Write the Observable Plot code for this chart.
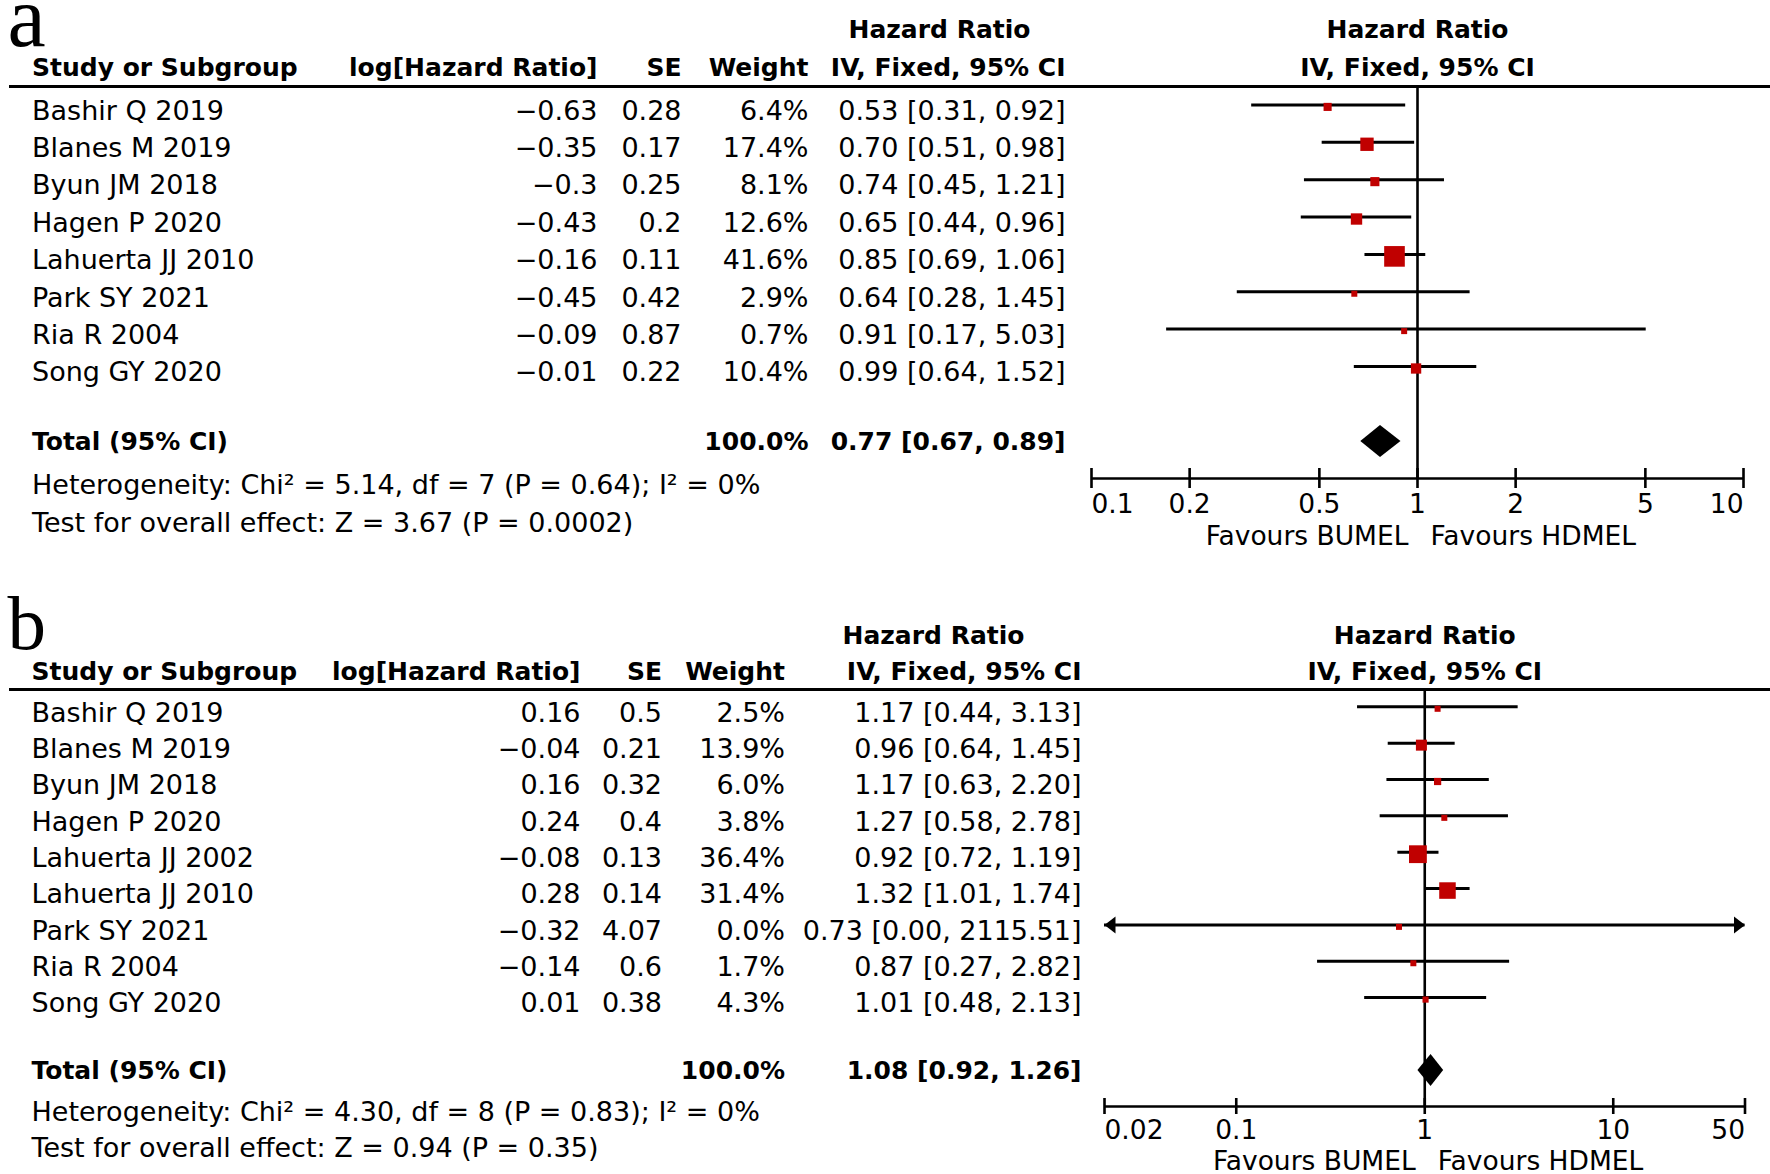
<!DOCTYPE html>
<html>
<head>
<meta charset="utf-8">
<script src="https://cdn.jsdelivr.net/npm/d3@7"></script>
<script src="https://cdn.jsdelivr.net/npm/@observablehq/plot@0.6"></script>
<style>
  html, body { margin: 0; padding: 0; background: #fff; }
  #chart { position: relative; width: 1770px; height: 1174px; background: #fff; }
  #chart svg { position: absolute; left: 0; top: 0; }
</style>
</head>
<body>
<div id="chart"></div>
<script>
// ---------------- DATA ----------------
const headers = ["Study or Subgroup", "log[Hazard Ratio]", "SE", "Weight", "Hazard Ratio", "IV, Fixed, 95% CI"];
const favours = ["Favours BUMEL", "Favours HDMEL"];

// Panel a
const studiesA = ["Bashir Q 2019", "Blanes M 2019", "Byun JM 2018", "Hagen P 2020", "Lahuerta JJ 2010", "Park SY 2021", "Ria R 2004", "Song GY 2020"];
const logHRA = [-0.63, -0.35, -0.3, -0.43, -0.16, -0.45, -0.09, -0.01];
const seA = [0.28, 0.17, 0.25, 0.2, 0.11, 0.42, 0.87, 0.22];
const weightA = [6.4, 17.4, 8.1, 12.6, 41.6, 2.9, 0.7, 10.4];
const hrA = [0.53, 0.70, 0.74, 0.65, 0.85, 0.64, 0.91, 0.99];
const lowA = [0.31, 0.51, 0.45, 0.44, 0.69, 0.28, 0.17, 0.64];
const highA = [0.92, 0.98, 1.21, 0.96, 1.06, 1.45, 5.03, 1.52];
const totalA = [0.77, 0.67, 0.89]; // HR, low, high
const totalWeightA = "100.0%";
const hetA = "Heterogeneity: Chi² = 5.14, df = 7 (P = 0.64); I² = 0%";
const testA = "Test for overall effect: Z = 3.67 (P = 0.0002)";
const ticksA = [0.1, 0.2, 0.5, 1, 2, 5, 10];
const tickLabelsA = ["0.1", "0.2", "0.5", "1", "2", "5", "10"];

// Panel b
const studiesB = ["Bashir Q 2019", "Blanes M 2019", "Byun JM 2018", "Hagen P 2020", "Lahuerta JJ 2002", "Lahuerta JJ 2010", "Park SY 2021", "Ria R 2004", "Song GY 2020"];
const logHRB = [0.16, -0.04, 0.16, 0.24, -0.08, 0.28, -0.32, -0.14, 0.01];
const seB = [0.5, 0.21, 0.32, 0.4, 0.13, 0.14, 4.07, 0.6, 0.38];
const weightB = [2.5, 13.9, 6.0, 3.8, 36.4, 31.4, 0.0, 1.7, 4.3];
const hrB = [1.17, 0.96, 1.17, 1.27, 0.92, 1.32, 0.73, 0.87, 1.01];
const lowB = [0.44, 0.64, 0.63, 0.58, 0.72, 1.01, 0.00, 0.27, 0.48];
const highB = [3.13, 1.45, 2.20, 2.78, 1.19, 1.74, 2115.51, 2.82, 2.13];
const totalB = [1.08, 0.92, 1.26];
const totalWeightB = "100.0%";
const hetB = "Heterogeneity: Chi² = 4.30, df = 8 (P = 0.83); I² = 0%";
const testB = "Test for overall effect: Z = 0.94 (P = 0.35)";
const ticksB = [0.02, 0.1, 1, 10, 50];
const tickLabelsB = ["0.02", "0.1", "1", "10", "50"];

// ---------------- LAYOUT ----------------
const W = 1770, H = 1174;
const FONT = "DejaVu Sans";
const RED = "#c00000";

const layoutA = {
  letterX: 7, letterBase: 45.5, letterSize: 86,
  h1Base: 37.6, h2Base: 75.6, headRule: 86,
  row0: 104.4, rowStep: 37.37, textOff: 14.8,
  totalBase: 449.2, totalY: 441, diamondHalf: 16, hetBase: 493.8, testBase: 531.3,
  axisY: 478, tickLen: 10, tickBase: 512.2, favBase: 544.7,
  cols: {study: 31.5, logHR: 597, se: 681, weight: 808, hr: 1065, hrHead: 939},
  xRange: [1091, 1743], domain: [0.1, 10], sq: 3.2
};
const layoutB = {
  letterX: 7, letterBase: 648.5, letterSize: 77,
  h1Base: 643.1, h2Base: 679.1, headRule: 689,
  row0: 706.3, rowStep: 36.35, textOff: 14.8,
  totalBase: 1078.1, totalY: 1070, diamondHalf: 16, hetBase: 1120.5, testBase: 1156.7,
  axisY: 1106, tickLen: 8, tickBase: 1138.7, favBase: 1169.7,
  cols: {study: 31, logHR: 580, se: 661.5, weight: 784.5, hr: 1081, hrHead: 933},
  xRange: [1104, 1744.5], domain: [0.02, 50], sq: 2.95
};

const panels = [
  {letter: "a", studies: studiesA, logHR: logHRA, se: seA, weight: weightA, hr: hrA, low: lowA, high: highA,
   total: totalA, totalWeight: totalWeightA, het: hetA, test: testA, ticks: ticksA, tickLabels: tickLabelsA, L: layoutA},
  {letter: "b", studies: studiesB, logHR: logHRB, se: seB, weight: weightB, hr: hrB, low: lowB, high: highB,
   total: totalB, totalWeight: totalWeightB, het: hetB, test: testB, ticks: ticksB, tickLabels: tickLabelsB, L: layoutB}
];

function rowsOf(P) {
  return P.studies.map((s, i) => ({i, study: s, logHR: P.logHR[i], se: P.se[i], weight: P.weight[i],
    hr: P.hr[i], low: P.low[i], high: P.high[i]}));
}
const minus = v => String(v).replace("-", "\u2212");
const ci = (h, l, u) => `${h.toFixed(2)} [${l.toFixed(2)}, ${u.toFixed(2)}]`;

const reg = {fontFamily: FONT, fontSize: 27, lineAnchor: "bottom"};
const bold = {fontFamily: FONT, fontSize: 25, fontWeight: "bold", lineAnchor: "bottom"};

// ---------------- TABLE (both panels) ----------------
function tableMarks(P) {
  const L = P.L, c = L.cols;
  const rows = rowsOf(P);
  const base = d => L.row0 + d.i * L.rowStep + L.textOff;
  return [
    Plot.text([P.letter], {x: L.letterX, y: L.letterBase, textAnchor: "start", lineAnchor: "bottom",
      fontFamily: "Liberation Serif", fontSize: L.letterSize}),
    Plot.text([headers[4]], {x: c.hrHead, y: L.h1Base, textAnchor: "middle", ...bold}),
    Plot.text([headers[0]], {x: c.study, y: L.h2Base, textAnchor: "start", ...bold}),
    Plot.text([headers[1]], {x: c.logHR, y: L.h2Base, textAnchor: "end", ...bold}),
    Plot.text([headers[2]], {x: c.se, y: L.h2Base, textAnchor: "end", ...bold}),
    Plot.text([headers[3]], {x: c.weight, y: L.h2Base, textAnchor: "end", ...bold}),
    Plot.text([headers[5]], {x: c.hr, y: L.h2Base, textAnchor: "end", ...bold}),
    Plot.ruleY([L.headRule], {x1: 9, x2: W, strokeWidth: 2.8}),
    Plot.text(rows, {x: c.study, y: base, text: "study", textAnchor: "start", ...reg}),
    Plot.text(rows, {x: c.logHR, y: base, text: d => minus(d.logHR), textAnchor: "end", ...reg}),
    Plot.text(rows, {x: c.se, y: base, text: d => String(d.se), textAnchor: "end", ...reg}),
    Plot.text(rows, {x: c.weight, y: base, text: d => d.weight.toFixed(1) + "%", textAnchor: "end", ...reg}),
    Plot.text(rows, {x: c.hr, y: base, text: d => ci(d.hr, d.low, d.high), textAnchor: "end", ...reg}),
    Plot.text(["Total (95% CI)"], {x: c.study, y: L.totalBase, textAnchor: "start", ...bold}),
    Plot.text([P.totalWeight], {x: c.weight, y: L.totalBase, textAnchor: "end", ...bold}),
    Plot.text([ci(...P.total)], {x: c.hr, y: L.totalBase, textAnchor: "end", ...bold}),
    Plot.text([P.het], {x: c.study, y: L.hetBase, textAnchor: "start", ...reg}),
    Plot.text([P.test], {x: c.study, y: L.testBase, textAnchor: "start", ...reg})
  ];
}

const tablePlot = Plot.plot({
  width: W, height: H, margin: 0,
  style: {background: "white", overflow: "visible"},
  x: {type: "linear", domain: [0, W], range: [0, W], axis: null},
  y: {type: "linear", domain: [0, H], range: [0, H], axis: null},
  marks: panels.flatMap(tableMarks)
});

// ---------------- FOREST PLOTS ----------------
const leftArrow = {draw(ctx) { ctx.moveTo(0, 0); ctx.lineTo(11, -8.5); ctx.lineTo(11, 8.5); ctx.closePath(); }};
const rightArrow = {draw(ctx) { ctx.moveTo(0, 0); ctx.lineTo(-11, -8.5); ctx.lineTo(-11, 8.5); ctx.closePath(); }};

function forestPlot(P) {
  const L = P.L;
  const [d0, d1] = L.domain;
  const rows = rowsOf(P);
  const lineY = d => L.row0 + d.i * L.rowStep;
  const minW = (6 / L.sq) ** 2;
  const [th, tl, tu] = P.total;
  const diamond = [
    {x: tl, y1: L.totalY, y2: L.totalY},
    {x: th, y1: L.totalY - L.diamondHalf, y2: L.totalY + L.diamondHalf},
    {x: tu, y1: L.totalY, y2: L.totalY}
  ];
  const n = P.ticks.length;
  const tickRows = P.ticks.map((t, i) => ({t, label: P.tickLabels[i], i}));
  const fs = {fontFamily: FONT, fontSize: 26.5, lineAnchor: "bottom"};
  return Plot.plot({
    width: W, height: H, margin: 0,
    style: {background: "transparent", overflow: "visible"},
    x: {type: "log", domain: L.domain, range: L.xRange, axis: null},
    y: {type: "linear", domain: [0, H], range: [0, H], axis: null},
    r: {type: "sqrt", domain: [0, 100], range: [0, L.sq * 10 / Math.sqrt(Math.PI)]},
    marks: [
      Plot.text([headers[4]], {x: () => 1, y: L.h1Base, textAnchor: "middle", ...bold}),
      Plot.text([headers[5]], {x: () => 1, y: L.h2Base, textAnchor: "middle", ...bold}),
      Plot.ruleX([1], {y1: L.headRule, y2: L.axisY, strokeWidth: 2.6}),
      Plot.ruleY(rows, {x1: d => Math.max(d.low, d0), x2: d => Math.min(d.high, d1), y: lineY, strokeWidth: 3}),
      Plot.dot(rows.filter(d => d.low < d0), {x: () => d0, y: lineY, symbol: leftArrow, fill: "black"}),
      Plot.dot(rows.filter(d => d.high > d1), {x: () => d1, y: lineY, symbol: rightArrow, fill: "black"}),
      Plot.dot(rows, {x: "hr", y: lineY, r: d => Math.max(d.weight, minW), symbol: "square", fill: RED, dy: 2}),
      Plot.areaY(diamond, {x: "x", y1: "y1", y2: "y2", fill: "black"}),
      Plot.ruleY([L.axisY], {x1: () => d0, x2: () => d1, strokeWidth: 2.6}),
      Plot.ruleX(P.ticks, {y1: L.axisY - L.tickLen, y2: L.axisY + L.tickLen, strokeWidth: 2.6}),
      Plot.text(tickRows.filter(d => d.i === 0), {x: "t", y: L.tickBase, text: "label", textAnchor: "start", ...fs}),
      Plot.text(tickRows.filter(d => d.i > 0 && d.i < n - 1), {x: "t", y: L.tickBase, text: "label", textAnchor: "middle", ...fs}),
      Plot.text(tickRows.filter(d => d.i === n - 1), {x: "t", y: L.tickBase, text: "label", textAnchor: "end", ...fs}),
      Plot.text([favours[0]], {x: () => 1, y: L.favBase, textAnchor: "end", dx: -9, ...fs}),
      Plot.text([favours[1]], {x: () => 1, y: L.favBase, textAnchor: "start", dx: 13, ...fs})
    ]
  });
}

const chart = document.getElementById("chart");
chart.appendChild(tablePlot);
panels.forEach(P => chart.appendChild(forestPlot(P)));
</script>
</body>
</html>
